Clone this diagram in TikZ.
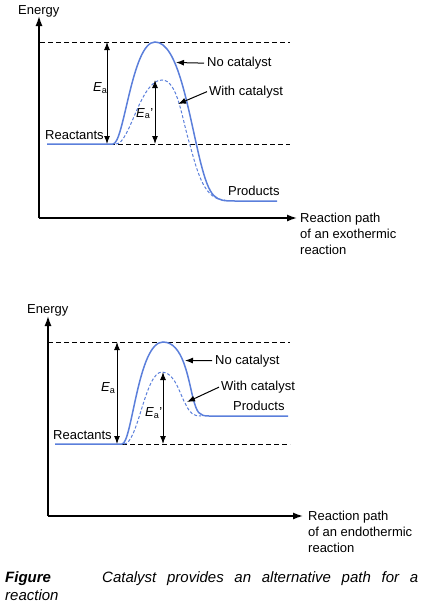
\documentclass[tikz,border=0pt]{standalone}
\usepackage{fontspec}
\setmainfont{Liberation Sans}
\usetikzlibrary{arrows.meta}
\definecolor{curveblue}{HTML}{5B7FDB}
\tikzset{
  >=latex,
  % labels
  lbl/.style={inner sep=0pt,font=\fontsize{13}{16}\selectfont},
  capt/.style={inner sep=0pt,font=\fontsize{15}{18}\selectfont\itshape},
  % lines
  axis/.style={-{Latex[length=10pt,width=7pt]},line width=1.4pt},
  level/.style={dash pattern=on 5pt off 3pt,line width=0.9pt},
  nocat/.style={curveblue,line width=1.5pt},
  withcat/.style={curveblue,line width=1pt,dash pattern=on 3pt off 2pt}
}
\newcommand{\Ea}{{\itshape E}\textsubscript{a}}
\begin{document}
\begin{tikzpicture}[x=1pt,y=-1pt,
    arr/.style={-{Latex[length=8pt,width=6pt]},line width=1pt},
    dbl/.style={{Latex[length=8pt,width=6pt]}-{Latex[length=8pt,width=6pt]},line width=1pt}]
  \useasboundingbox (0,0) rectangle (427,605);
  % ---- exothermic ----
  \coordinate (O1) at (39,218);
  \coordinate (Y1) at (39,16);
  \coordinate (X1) at (297,218);
  \draw[axis] (O1) -- (Y1);
  \draw[axis] (O1) -- (X1);
  \node[lbl,anchor=base west] (energy1) at (18,14) {Energy};
  \node[lbl,anchor=north west,align=left] (path1) at (300,212.5) {Reaction path\\of an exothermic\\reaction};
  \draw[level] (40,42) -- (290,42);
  \draw[level] (110,144) -- (290,144);
  \draw[nocat] (47,144) -- (113,144)
    .. controls (124,144) and (132,42) .. (155,42)
    .. controls (178,42) and (188,110) .. (200,160)
    .. controls (210,200) and (215,201) .. (235,201) -- (277,201);
  \draw[withcat] (116,144) .. controls (130,144) and (140,80) .. (162,80)
    .. controls (178,80) and (182,120) .. (190,145)
    .. controls (198,175) and (205,200) .. (225,200);
  \coordinate (ea1t) at (107,42);
  \coordinate (ea1b) at (107,144);
  \coordinate (eb1t) at (155,80);
  \coordinate (eb1b) at (155,144);
  \draw[dbl] (ea1t) -- (ea1b);
  \draw[dbl] (eb1t) -- (eb1b);
  \node[lbl,anchor=base west] (ea1) at (93,91.5) {\Ea};
  \node[lbl,anchor=base west] (eb1) at (136,117) {\Ea'};
  \node[lbl,anchor=base west] (react1) at (45,139.5) {Reactants};
  \node[lbl,anchor=base west] (prod1) at (228,195.5) {Products};
  \node[lbl,anchor=base west] (nc1) at (207,66.5) {No catalyst};
  \node[lbl,anchor=base west] (wc1) at (209,95) {With catalyst};
  \coordinate (nc1tip) at (176,62.5);
  \coordinate (wc1tip) at (178,104);
  \draw[arr] ([xshift=-3pt]nc1.west) -- (nc1tip);
  \draw[arr] ([xshift=-2pt]wc1.west) -- (wc1tip);
  % ---- endothermic ----
  \coordinate (O2) at (48,516);
  \coordinate (Y2) at (48,316);
  \coordinate (X2) at (303,516);
  \draw[axis] (O2) -- (Y2);
  \draw[axis] (O2) -- (X2);
  \node[lbl,anchor=base west] (energy2) at (27,313) {Energy};
  \node[lbl,anchor=north west,align=left] (path2) at (308,511) {Reaction path\\of an endothermic\\reaction};
  \draw[level] (48,342) -- (290,342);
  \draw[level] (122,444) -- (290,444);
  \draw[nocat] (55,444) -- (122,444)
    .. controls (132,444) and (138,342) .. (163,342)
    .. controls (183,342) and (188,378) .. (193,398)
    .. controls (197,413) and (199,416) .. (209,416) -- (288,416);
  \draw[withcat] (124,444) .. controls (138,444) and (145,372) .. (162,372)
    .. controls (175,372) and (180,395) .. (186,405)
    .. controls (190,413) and (193,416) .. (201,416);
  \coordinate (ea2t) at (117,342);
  \coordinate (ea2b) at (117,444);
  \coordinate (eb2t) at (163,372);
  \coordinate (eb2b) at (163,444);
  \draw[dbl] (ea2t) -- (ea2b);
  \draw[dbl] (eb2t) -- (eb2b);
  \node[lbl,anchor=base west] (ea2) at (101,391.5) {\Ea};
  \node[lbl,anchor=base west] (eb2) at (145,416.5) {\Ea'};
  \node[lbl,anchor=base west] (react2) at (53,439) {Reactants};
  \node[lbl,anchor=base west] (prod2) at (233,410.5) {Products};
  \node[lbl,anchor=base west] (nc2) at (215,364) {No catalyst};
  \node[lbl,anchor=base west] (wc2) at (221,390.5) {With catalyst};
  \coordinate (nc2tip) at (185,360.5);
  \coordinate (wc2tip) at (187,402);
  \draw[arr] ([xshift=-3pt]nc2.west) -- (nc2tip);
  \draw[arr] ([xshift=-2pt]wc2.west) -- (wc2tip);
  % ---- caption ----
  \node[capt,anchor=base west] (figword) at (5,582) {\bfseries Figure};
  \node[capt,anchor=base west] (captline) at (102,582) {\makebox[316pt][s]{Catalyst provides an alternative path for a}};
  \node[capt,anchor=base west] (captend) at (5,600) {reaction};
\end{tikzpicture}
\end{document}
